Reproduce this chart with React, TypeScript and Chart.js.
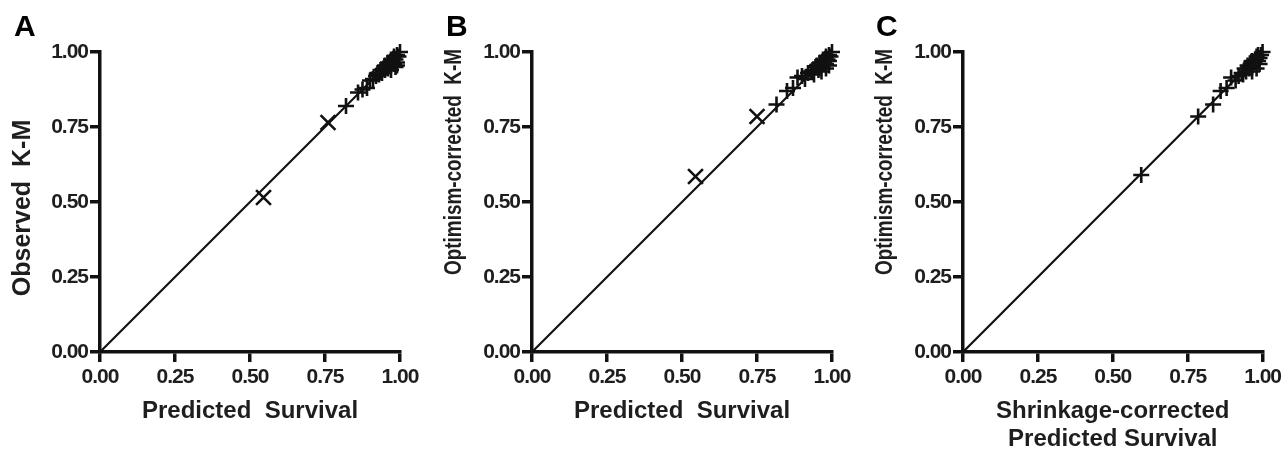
import React, { useEffect, useRef } from "react";
import { Chart, registerables } from "chart.js";

Chart.register(...registerables);

// ---------- data ----------
const tickValues = [0, 0.25, 0.5, 0.75, 1.0];
const identityLine = [
  { x: 0, y: 0 },
  { x: 1, y: 1 },
];

const panelLetters = ["A", "B", "C"];
const xTitleA = ["Predicted  Survival"];
const xTitleB = ["Predicted  Survival"];
const xTitleC = ["Shrinkage-corrected", "Predicted Survival"];
const yTitleA = "Observed  K-M";
const yTitleB = "Optimism-corrected  K-M";
const yTitleC = "Optimism-corrected  K-M";

const panelAPredicted = [0.545, 0.76, 0.82, 0.86, 0.875, 0.89, 0.9, 0.91, 0.92, 0.925, 0.93, 0.935, 0.94, 0.945, 0.95, 0.95, 0.955, 0.96, 0.96, 0.965, 0.97, 0.97, 0.975, 0.98, 0.98, 0.985, 0.99, 0.99, 0.995, 1.0, 0.97, 0.985, 0.99];
const panelAObserved = [0.515, 0.765, 0.82, 0.865, 0.875, 0.88, 0.905, 0.91, 0.92, 0.93, 0.925, 0.94, 0.93, 0.945, 0.955, 0.94, 0.95, 0.965, 0.945, 0.96, 0.955, 0.975, 0.97, 0.985, 0.96, 0.975, 0.99, 0.965, 0.985, 1.0, 0.94, 0.95, 0.955];

const panelBPredicted = [0.545, 0.75, 0.815, 0.85, 0.87, 0.885, 0.9, 0.91, 0.92, 0.93, 0.935, 0.94, 0.945, 0.95, 0.955, 0.96, 0.96, 0.965, 0.97, 0.975, 0.98, 0.98, 0.985, 0.99, 0.99, 0.995, 1.0, 0.965, 0.98, 0.99];
const panelBObserved = [0.585, 0.785, 0.825, 0.87, 0.88, 0.915, 0.92, 0.91, 0.93, 0.935, 0.94, 0.925, 0.95, 0.955, 0.94, 0.965, 0.95, 0.96, 0.975, 0.97, 0.985, 0.96, 0.975, 0.99, 0.97, 0.985, 1.0, 0.935, 0.945, 0.955];

const panelCPredicted = [0.595, 0.785, 0.835, 0.86, 0.88, 0.895, 0.91, 0.92, 0.93, 0.935, 0.94, 0.945, 0.95, 0.955, 0.96, 0.965, 0.965, 0.97, 0.975, 0.98, 0.985, 0.985, 0.99, 0.995, 1.0, 0.965, 0.98, 0.99];
const panelCObserved = [0.59, 0.785, 0.825, 0.87, 0.88, 0.915, 0.905, 0.92, 0.93, 0.925, 0.945, 0.935, 0.955, 0.945, 0.96, 0.97, 0.95, 0.965, 0.975, 0.985, 0.97, 0.99, 0.98, 0.99, 1.0, 0.935, 0.945, 0.96];

// ---------- layout / style ----------
const H = 450;
const TOP = 52;
const AREA = 300;
const INK = "#111";
const TEXT = "#1e1e1e";
const TICK_FONT = { family: "'Liberation Sans Narrow', 'Liberation Sans', Arial, sans-serif", size: 21, weight: "bold" as const, lineHeight: 1.2 };
const TITLE_FAMILY = "'Liberation Sans', Arial, sans-serif";

type PanelCfg = {
  left: number;
  width: number;
  areaLeft: number;
  xs: number[];
  ys: number[];
  xTitle: string[];
  yTitle: string;
  yTitleY: number;
  yTitleMax: number;
  yTitleSize: number;
  xTitlePad: number;
  rotBelow: number;
  letterLeft: number;
};

const panels: PanelCfg[] = [
  { left: 0, width: 431, areaLeft: 100, xs: panelAPredicted, ys: panelAObserved, xTitle: xTitleA, yTitle: yTitleA, yTitleY: 208, yTitleMax: 300, yTitleSize: 25, xTitlePad: 25, rotBelow: 0.77, letterLeft: 14 },
  { left: 431, width: 431, areaLeft: 101, xs: panelBPredicted, ys: panelBObserved, xTitle: xTitleB, yTitle: yTitleB, yTitleY: 162, yTitleMax: 226, yTitleSize: 24, xTitlePad: 25, rotBelow: 0.77, letterLeft: 446 },
  { left: 862, width: 424, areaLeft: 101, xs: panelCPredicted, ys: panelCObserved, xTitle: xTitleC, yTitle: yTitleC, yTitleY: 162, yTitleMax: 226, yTitleSize: 24, xTitlePad: -3, rotBelow: 0, letterLeft: 876 },
];

function makeChart(canvas: HTMLCanvasElement, p: PanelCfg) {
  const pts = p.xs.map((x, i) => ({ x, y: p.ys[i] }));
  const textPlugin = {
    id: "textDraw",
    afterDatasetsDraw(chart: any) {
      // condense the tick labels, drawn on the layer after the datasets
      (chart.ctx as any).letterSpacing = "-1px";
    },
    afterDraw(chart: any) {
      const ctx = chart.ctx as CanvasRenderingContext2D;
      (ctx as any).letterSpacing = "0px";
      ctx.save();
      ctx.translate(23, p.yTitleY);
      ctx.rotate(-Math.PI / 2);
      ctx.font = `bold ${p.yTitleSize}px ${TITLE_FAMILY}`;
      ctx.fillStyle = TEXT;
      ctx.textAlign = "center";
      ctx.textBaseline = "middle";
      ctx.fillText(p.yTitle, 0, 0, p.yTitleMax);
      ctx.restore();
    },
  };
  const isX = (c: any) => c.raw && c.raw.x < p.rotBelow;
  const axisCommon = {
    type: "linear" as const,
    min: 0,
    max: 1,
    afterBuildTicks: (s: any) => {
      s.ticks = tickValues.map((v) => ({ value: v }));
    },
    grid: { drawOnChartArea: false, drawTicks: true, tickLength: 10, tickWidth: 3.5, tickColor: INK, lineWidth: 3.5, color: INK },
    border: { display: true, color: INK, width: 3.5 },
  };
  return new Chart(canvas, {
    type: "scatter",
    data: {
      datasets: [
        {
          type: "line",
          data: identityLine,
          borderColor: INK,
          borderWidth: 2.2,
          pointRadius: 0,
          fill: false,
          clip: false,
          order: 2,
        } as any,
        {
          type: "scatter",
          data: pts,
          pointStyle: "cross",
          pointRadius: (c: any) => (isX(c) ? 10.5 : 8),
          pointBorderWidth: 2.6,
          borderColor: INK,
          backgroundColor: INK,
          rotation: (c: any) => (isX(c) ? 45 : 0),
          clip: false,
          order: 1,
        } as any,
      ],
    },
    options: {
      animation: false,
      responsive: false,
      maintainAspectRatio: false,
      events: [],
      layout: { padding: { left: 0, right: p.width - p.areaLeft - AREA, top: TOP, bottom: 0 } },
      plugins: { legend: { display: false }, tooltip: { enabled: false } },
      scales: {
        x: {
          ...axisCommon,
          afterFit: (s: any) => {
            s.height = H - TOP - AREA;
          },
          ticks: { z: 1, callback: (v: any) => Number(v).toFixed(2), font: TICK_FONT, color: TEXT, padding: 3, maxRotation: 0, autoSkip: false },
          title: {
            display: true,
            text: p.xTitle,
            color: TEXT,
            font: { family: TITLE_FAMILY, size: 24, weight: "bold", lineHeight: 1.17 },
            padding: { top: 0, bottom: p.xTitlePad },
          },
        },
        y: {
          ...axisCommon,
          afterFit: (s: any) => {
            s.width = p.areaLeft;
          },
          ticks: { z: 1, callback: (v: any) => Number(v).toFixed(2), font: TICK_FONT, color: TEXT, padding: 2, autoSkip: false },
          title: { display: false },
        },
      },
    } as any,
    plugins: [textPlugin],
  });
}

function Panel({ p }: { p: PanelCfg }) {
  const ref = useRef<HTMLCanvasElement | null>(null);
  useEffect(() => {
    if (!ref.current) return;
    const chart = makeChart(ref.current, p);
    return () => chart.destroy();
  }, [p]);
  return (
    <canvas
      ref={ref}
      width={p.width}
      height={H}
      style={{ position: "absolute", left: p.left, top: 0, width: p.width, height: H, display: "block" }}
    />
  );
}

export default function App() {
  return (
    <div style={{ position: "absolute", left: 0, top: 0, width: 1286, height: H, overflow: "hidden", background: "#fff" }}>
      {panels.map((p, i) => (
        <Panel key={i} p={p} />
      ))}
      {panels.map((p, i) => (
        <div
          key={"l" + i}
          style={{
            position: "absolute",
            left: p.letterLeft,
            top: 11,
            font: `bold 30px ${TITLE_FAMILY}`,
            lineHeight: "30px",
            color: "#000",
          }}
        >
          {panelLetters[i]}
        </div>
      ))}
    </div>
  );
}
